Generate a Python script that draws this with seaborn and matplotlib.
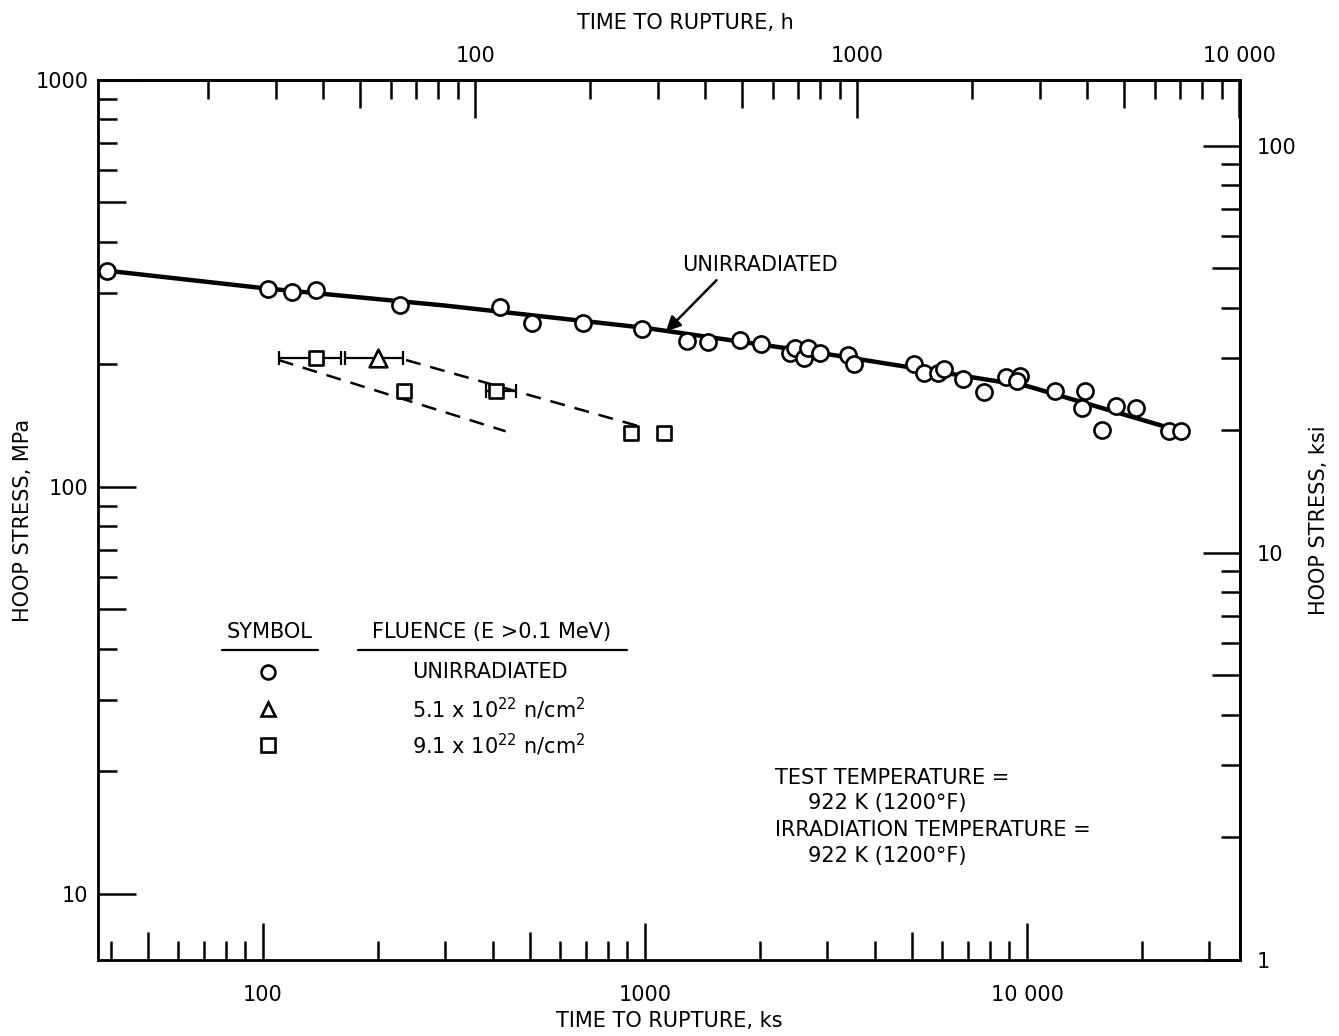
import matplotlib
matplotlib.use("Agg")
import matplotlib.pyplot as plt
import seaborn as sns
from matplotlib.ticker import FixedLocator, FuncFormatter, NullFormatter

# unirradiated tests (time to rupture ks, hoop stress MPa)
unirr_t = [39, 103, 119, 138, 228, 417, 506, 690, 985, 1286, 1459, 1772, 2014, 2391, 2474,
           2601, 2679, 2870, 3394, 3530, 5047, 5387, 5865, 6075, 6790, 7740, 8790, 9590,
           9420, 11870, 14200, 13900, 15720, 17080, 19340, 23570, 25260]
unirr_s = [340, 306, 302, 304, 280, 276, 253, 253, 245, 228, 227, 230, 224, 213, 220,
           207, 219, 213, 211, 200, 200, 191, 191, 195, 184, 171, 186, 187,
           182, 172, 172, 156, 138, 158, 156, 137, 137]

# curve through unirradiated data
fit_t = [39, 100, 300, 1000, 3000, 10000, 25300]
fit_s = [340, 308, 279, 246, 212, 177, 137]

# 5.1e22 n/cm2
tri_t = [200]
tri_s = [207]
tri_lo = [164]
tri_hi = [233]

# 9.1e22 n/cm2
sq_t = [138, 234, 407, 922, 1122]
sq_s = [207, 172, 172, 136, 136]
sq_err_t = [138, 407]
sq_err_s = [207, 172]
sq_err_lo = [110, 384]
sq_err_hi = [160, 460]

# dashed trend lines
dash1_t = [110, 432]
dash1_s = [205, 137]
dash2_t = [237, 1003]
dash2_s = [205, 139.5]

ks_major = [100, 1000, 10000]
ks_minor = [40, 50, 60, 70, 80, 90, 200, 300, 400, 500, 600, 700, 800, 900,
            2000, 3000, 4000, 5000, 6000, 7000, 8000, 9000, 20000, 30000]
h_major = [100, 1000, 10000]
h_minor = [20, 30, 40, 50, 60, 70, 80, 90, 200, 300, 400, 500, 600, 700, 800, 900,
           2000, 3000, 4000, 5000, 6000, 7000, 8000, 9000]
mpa_major = [10, 100, 1000]
mpa_minor = [20, 30, 40, 50, 60, 70, 80, 90, 200, 300, 400, 500, 600, 700, 800, 900]
ksi_major = [1, 10, 100]
ksi_minor = [2, 3, 4, 5, 6, 7, 8, 9, 20, 30, 40, 50, 60, 70, 80, 90]

KSI = 6.895  # MPa per ksi

sns.set_style("ticks")
plt.rcParams["font.family"] = ["DejaVu Sans"]
plt.rcParams["font.size"] = 15
plt.rcParams["mathtext.fontset"] = "dejavusans"
for k in ["text.color", "axes.labelcolor", "xtick.color", "ytick.color", "axes.edgecolor"]:
    plt.rcParams[k] = "black"

fig = plt.figure(figsize=(13.39, 10.36), dpi=100)
ax = fig.add_axes([0.0732, 0.0734, 0.8528, 0.8494])
ax.set_xscale("log")
ax.set_yscale("log")
ax.set_xlim(37, 36100)
ax.set_ylim(6.88, 1000)

# data
sns.lineplot(x=fit_t, y=fit_s, ax=ax, color="black", lw=3.2, estimator=None, sort=False, zorder=2)
sns.lineplot(x=dash1_t, y=dash1_s, ax=ax, color="black", lw=1.8, estimator=None,
             dashes=False, linestyle=(0, (6, 4)), zorder=2)
sns.lineplot(x=dash2_t, y=dash2_s, ax=ax, color="black", lw=1.8, estimator=None,
             dashes=False, linestyle=(0, (6, 4)), zorder=2)

ax.errorbar(tri_t, tri_s, xerr=[[t - lo for t, lo in zip(tri_t, tri_lo)],
                                [hi - t for t, hi in zip(tri_t, tri_hi)]],
            fmt="none", ecolor="black", elinewidth=1.6, capsize=5, capthick=1.6, zorder=2)
ax.errorbar(sq_err_t, sq_err_s, xerr=[[t - lo for t, lo in zip(sq_err_t, sq_err_lo)],
                                      [hi - t for t, hi in zip(sq_err_t, sq_err_hi)]],
            fmt="none", ecolor="black", elinewidth=1.6, capsize=5, capthick=1.6, zorder=2)

sns.scatterplot(x=unirr_t, y=unirr_s, ax=ax, marker="o", s=135, color="white",
                edgecolor="black", linewidth=1.9, zorder=3)
sns.scatterplot(x=tri_t, y=tri_s, ax=ax, marker="^", s=160, color="white",
                edgecolor="black", linewidth=1.9, zorder=3)
sns.scatterplot(x=sq_t, y=sq_s, ax=ax, marker="s", s=110, color="white",
                edgecolor="black", linewidth=1.9, zorder=3)

# label on curve
ax.text(1996, 352, "UNIRRADIATED", ha="center", va="center", fontsize=15)
ax.annotate("", xy=(1135, 241), xytext=(1539, 322),
            arrowprops=dict(arrowstyle="-|>", color="black", lw=1.8,
                            mutation_scale=22, shrinkA=0, shrinkB=0))

# symbol key
ax.text(0.1506, 0.3727, "SYMBOL", transform=ax.transAxes, ha="center", va="center")
ax.text(0.345, 0.3727, "FLUENCE (E >0.1 MeV)", transform=ax.transAxes, ha="center", va="center")
ax.plot([0.1086, 0.1926], [0.352, 0.352], transform=ax.transAxes, color="black", lw=1.6)
ax.plot([0.2277, 0.4632], [0.352, 0.352], transform=ax.transAxes, color="black", lw=1.6)
key_y = [0.327, 0.285, 0.244]
key_m = ["o", "^", "s"]
key_txt = ["UNIRRADIATED", r"5.1 x 10$^{22}$ n/cm$^2$", r"9.1 x 10$^{22}$ n/cm$^2$"]
for yy, mm, tt in zip(key_y, key_m, key_txt):
    ax.plot([0.149], [yy], marker=mm, ms=10, mfc="white", mec="black", mew=1.9,
            transform=ax.transAxes, linestyle="none")
    ax.text(0.275, yy, tt, transform=ax.transAxes, ha="left", va="center")

# test conditions
ax.text(0.593, 0.207, "TEST TEMPERATURE =", transform=ax.transAxes, va="center")
ax.text(0.622, 0.178, "922 K (1200°F)", transform=ax.transAxes, va="center")
ax.text(0.593, 0.148, "IRRADIATION TEMPERATURE =", transform=ax.transAxes, va="center")
ax.text(0.622, 0.118, "922 K (1200°F)", transform=ax.transAxes, va="center")

# secondary scales
secx = ax.secondary_xaxis("top", functions=(lambda t: t / 3.6, lambda h: h * 3.6))
secy = ax.secondary_yaxis("right", functions=(lambda s: s / KSI, lambda k: k * KSI))

fmt = FuncFormatter(lambda v, p: f"{v:,.0f}".replace(",", " ") if v >= 10000 else f"{v:.0f}")

for a in [ax, secx, secy]:
    for sp in a.spines.values():
        sp.set_linewidth(2)

ax.tick_params(which="both", direction="in", width=1.8, top=False, right=False,
               labelsize=15, colors="black")
ax.tick_params(which="major", length=27)
ax.tick_params(which="minor", length=14)
ax.tick_params(axis="x", which="both", pad=18)
ax.tick_params(axis="y", which="both", pad=7)
secx.tick_params(which="both", direction="in", width=1.8, labelsize=15, pad=10)
secx.tick_params(which="major", length=27)
secx.tick_params(which="minor", length=14)
secy.tick_params(which="both", direction="in", width=1.8, labelsize=15, pad=12)
secy.tick_params(which="major", length=27)
secy.tick_params(which="minor", length=14)


def set_ticks(axis, major, minor):
    axis.set_major_locator(FixedLocator(major))
    axis.set_minor_locator(FixedLocator(minor))
    axis.set_major_formatter(fmt)
    axis.set_minor_formatter(NullFormatter())
    for v, tk in zip(minor, axis.get_minor_ticks(len(minor))):
        if f"{v:g}"[0] == "5":
            tk.tick1line.set_markersize(20)
            tk.tick2line.set_markersize(20)


set_ticks(ax.xaxis, ks_major, ks_minor)
set_ticks(ax.yaxis, mpa_major, mpa_minor)
set_ticks(secx.xaxis, h_major, h_minor)
set_ticks(secy.yaxis, ksi_major, ksi_minor)

ax.set_xlabel("TIME TO RUPTURE, ks", fontsize=15, labelpad=4)
ax.set_ylabel("HOOP STRESS, MPa", fontsize=15, labelpad=2)
secx.set_xlabel("TIME TO RUPTURE, h", fontsize=15, labelpad=12)
secx.xaxis.label.set_x(0.514)
secy.set_ylabel("HOOP STRESS, ksi", fontsize=15, labelpad=9)

fig.savefig("out.png", dpi=100)
